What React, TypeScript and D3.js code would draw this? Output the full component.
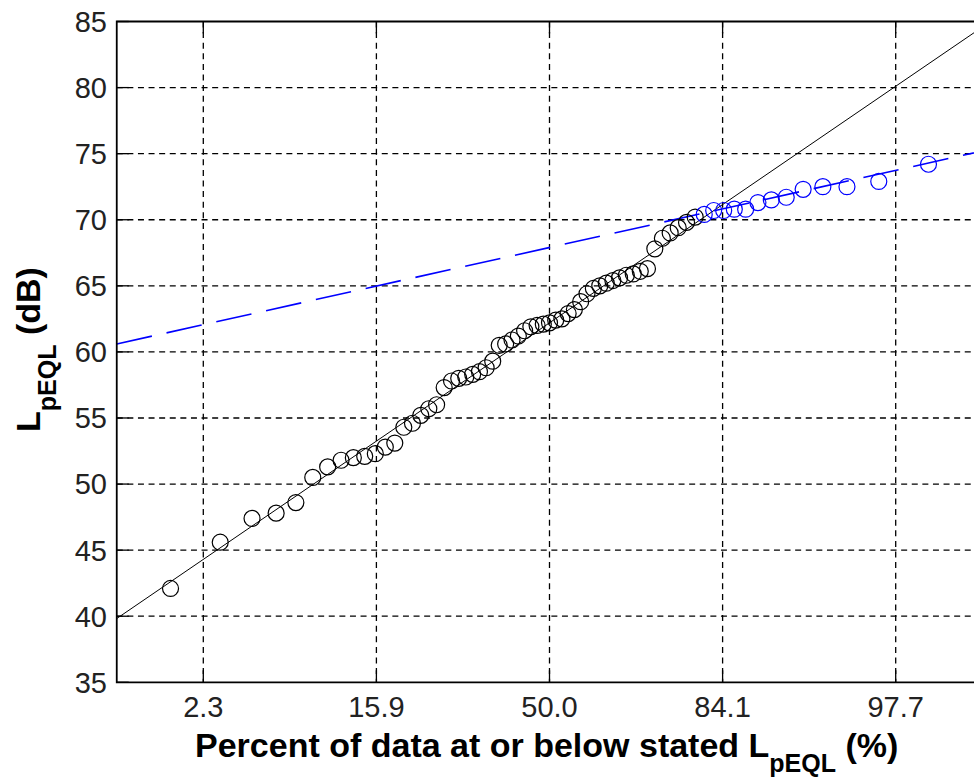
import React from "react";
import * as d3 from "d3";

// Sorted L_pEQL values (dB); ranks 1..56 black, 57..69 blue
const blackValues = [
  42.1, 45.6, 47.4, 47.8, 48.6, 50.5, 51.3, 51.8, 52.0, 52.1, 52.3, 52.8, 53.1, 54.3,
  54.6, 55.2, 55.7, 56.0, 57.3, 57.8, 58.0, 58.1, 58.3, 58.5, 58.8, 59.3, 60.5, 60.6,
  60.9, 61.2, 61.6, 61.9, 62.0, 62.1, 62.2, 62.4, 62.5, 62.9, 63.2, 63.8, 64.4, 64.8,
  65.0, 65.2, 65.4, 65.6, 65.8, 65.9, 66.1, 66.3, 67.8, 68.6, 69.0, 69.4, 69.8, 70.2,
];
const blueValues = [70.4, 70.7, 70.7, 70.8, 70.8, 71.3, 71.5, 71.7, 72.3, 72.5, 72.5, 72.9, 74.2];

// Normal fit lines: [mean, standard deviation]
const blackFit = [62.2, 8.95];
const blueFit = [67.9, 2.92];

const xTickZ = [-2, -1, 0, 1, 2];
const xTickLabels = ["2.3", "15.9", "50.0", "84.1", "97.7"];
const yTicks = [35, 40, 45, 50, 55, 60, 65, 70, 75, 80, 85];
const xDomain = [-2.5, 2.5];
const yDomain = [35, 85];

// inverse standard normal CDF (Acklam)
function probit(p: number): number {
  const a = [-3.969683028665376e1, 2.209460984245205e2, -2.759285104469687e2, 1.38357751867269e2, -3.066479806614716e1, 2.506628277459239];
  const b = [-5.447609879822406e1, 1.615858368580409e2, -1.556989798598866e2, 6.680131188771972e1, -1.328068155288572e1];
  const c = [-7.784894002430293e-3, -3.223964580411365e-1, -2.400758277161838, -2.549732539343734, 4.374664141464968, 2.938163982698783];
  const d = [7.784695709041462e-3, 3.224671290700398e-1, 2.445134137142996, 3.754408661907416];
  const pl = 0.02425;
  if (p < pl) {
    const q = Math.sqrt(-2 * Math.log(p));
    return (((((c[0] * q + c[1]) * q + c[2]) * q + c[3]) * q + c[4]) * q + c[5]) / ((((d[0] * q + d[1]) * q + d[2]) * q + d[3]) * q + 1);
  }
  if (p > 1 - pl) {
    const q = Math.sqrt(-2 * Math.log(1 - p));
    return -(((((c[0] * q + c[1]) * q + c[2]) * q + c[3]) * q + c[4]) * q + c[5]) / ((((d[0] * q + d[1]) * q + d[2]) * q + d[3]) * q + 1);
  }
  const q = p - 0.5;
  const r = q * q;
  return ((((((a[0] * r + a[1]) * r + a[2]) * r + a[3]) * r + a[4]) * r + a[5]) * q) / (((((b[0] * r + b[1]) * r + b[2]) * r + b[3]) * r + b[4]) * r + 1);
}

export default function App() {
  const W = 974, H = 777;
  const left = 116.75, right = 982.25, top = 21.5, bottom = 682.3;
  const x = d3.scaleLinear().domain(xDomain).range([left, right]);
  const y = d3.scaleLinear().domain(yDomain).range([bottom, top]);

  const n = blackValues.length + blueValues.length;
  const blackPts = blackValues.map((v, i) => ({ z: probit((i + 1) / (n + 1)), v }));
  const bluePts = blueValues.map((v, i) => ({ z: probit((blackValues.length + i + 1) / (n + 1)), v }));

  const fitLine = (fit: number[]) =>
    d3.line<number>().x((z) => x(z)).y((z) => y(fit[0] + fit[1] * z))(xDomain as number[]) || "";

  const grid = "6 4.6";
  const tickFont = "'Liberation Sans', Arial, sans-serif";
  const tickLen = 12;

  return (
    <svg width={W} height={H} style={{ position: "absolute", left: 0, top: 0, background: "#fff" }}>
      <defs>
        <clipPath id="plot">
          <rect x={left} y={top} width={right - left} height={bottom - top} />
        </clipPath>
      </defs>
      <rect x={0} y={0} width={W} height={H} fill="#fff" />
      {/* grid */}
      {yTicks.filter((t) => t > 35 && t < 85).map((t) => (
        <line key={"gy" + t} x1={left} x2={right} y1={y(t)} y2={y(t)} stroke="#000" strokeWidth={1.3} strokeDasharray={grid} />
      ))}
      {xTickZ.map((z) => (
        <line key={"gx" + z} x1={x(z)} x2={x(z)} y1={top} y2={bottom} stroke="#000" strokeWidth={1.3} strokeDasharray={grid} />
      ))}
      {/* ticks */}
      {xTickZ.map((z) => (
        <g key={"tx" + z}>
          <line x1={x(z)} x2={x(z)} y1={bottom} y2={bottom - tickLen} stroke="#000" strokeWidth={1.3} />
          <line x1={x(z)} x2={x(z)} y1={top} y2={top + tickLen} stroke="#000" strokeWidth={1.3} />
        </g>
      ))}
      {yTicks.map((t) => (
        <line key={"ty" + t} x1={left} x2={left + tickLen} y1={y(t)} y2={y(t)} stroke="#000" strokeWidth={1.3} />
      ))}
      {/* fits and data */}
      <g clipPath="url(#plot)">
        <path d={fitLine(blackFit)} fill="none" stroke="#000" strokeWidth={1} />
        <path d={fitLine(blueFit)} fill="none" stroke="#0000ff" strokeWidth={1.6} strokeDasharray="36 15" />
        {blackPts.map((p, i) => (
          <circle key={"b" + i} cx={x(p.z)} cy={y(p.v)} r={8} fill="none" stroke="#000" strokeWidth={1.2} />
        ))}
        {bluePts.map((p, i) => (
          <circle key={"u" + i} cx={x(p.z)} cy={y(p.v)} r={8} fill="none" stroke="#0000ff" strokeWidth={1.2} />
        ))}
      </g>
      {/* frame */}
      <path d={`M${right},${top}H${left}V${bottom}H${right}`} fill="none" stroke="#000" strokeWidth={1.8} />
      {/* tick labels */}
      {yTicks.map((t) => (
        <text key={"ly" + t} x={107} y={y(t) + 10.4} textAnchor="end" fontFamily={tickFont} fontSize={29} fill="#222">
          {t}
        </text>
      ))}
      {xTickZ.map((z, i) => (
        <text key={"lx" + z} x={x(z)} y={716.5} textAnchor="middle" fontFamily={tickFont} fontSize={29} fill="#222">
          {xTickLabels[i]}
        </text>
      ))}
      {/* axis titles */}
      <text x={195} y={757} fontFamily={tickFont} fontWeight="bold" fontSize={34} fill="#000">
        Percent of data at or below stated L
        <tspan dy={15} fontSize={25}>pEQL</tspan>
        <tspan dy={-15}> (%)</tspan>
      </text>
      <text transform="translate(40,432) rotate(-90)" fontFamily={tickFont} fontWeight="bold" fontSize={34} fill="#000">
        L<tspan dy={16} fontSize={25}>pEQL</tspan>
        <tspan dy={-16}> (dB)</tspan>
      </text>
    </svg>
  );
}
